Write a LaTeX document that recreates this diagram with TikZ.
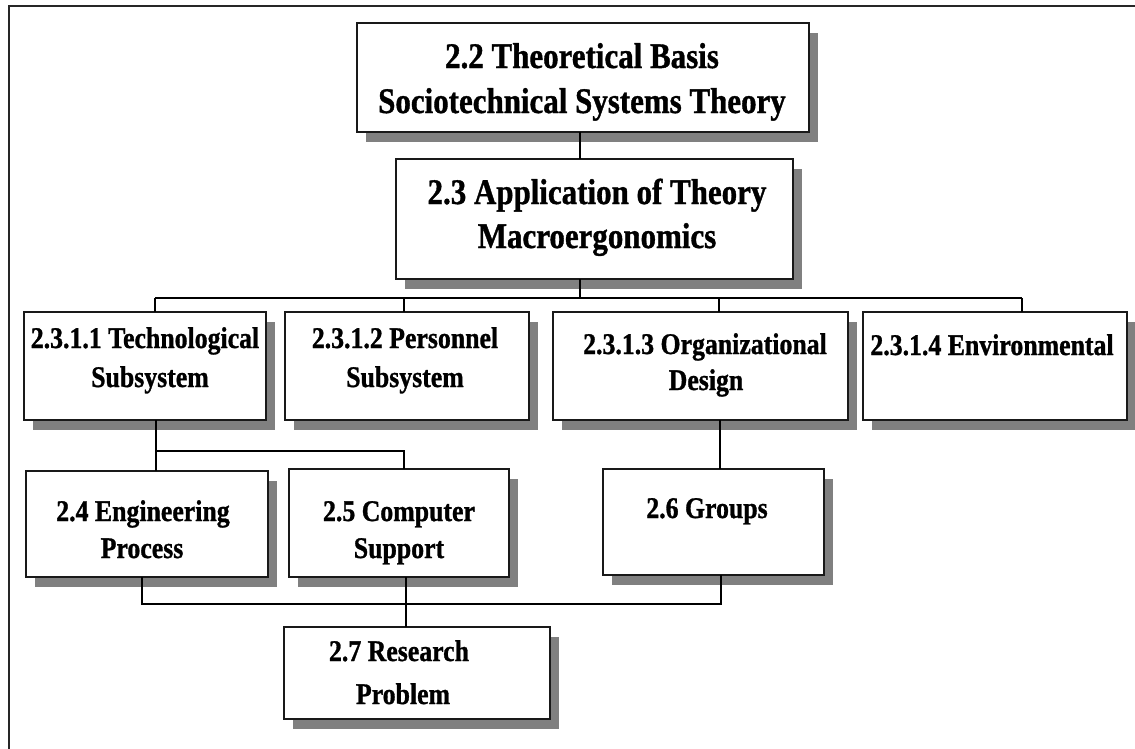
\documentclass[tikz,border=0pt]{standalone}
\usepackage{fontspec}
\usetikzlibrary{shadows}
\newfontfamily\boxfont[FakeStretch=0.86, FakeBold=1]{Liberation Serif}

\begin{document}
\begin{tikzpicture}[x=1pt,y=-1pt,
  box/.style={draw=black!90, line width=1.4pt, fill=white, inner sep=0pt, outer sep=0pt,
    anchor=north west,
    drop shadow={shadow xshift=8.5pt, shadow yshift=-10pt, fill=gray, opacity=1}},
  big/.style={anchor=base, inner sep=0pt, font=\boxfont\bfseries\fontsize{36}{42}\selectfont},
  small/.style={anchor=base, inner sep=0pt, font=\boxfont\bfseries\fontsize{30}{35}\selectfont},
  link/.style={draw=black, line width=1.1pt},
  frameline/.style={draw=black!85, line width=1.4pt}]

\useasboundingbox (0,0) rectangle (1135,748);
\fill[white] (0,0) rectangle (1135,748);

% outer frame (runs past the right and bottom edges)
\draw[frameline] (9,760) -- (9,6) -- (1150,6);

% boxes
\node[box, minimum width=452pt, minimum height=109pt] (b22) at (357,23) {};
\node[box, minimum width=397pt, minimum height=120pt] (b23) at (396,159) {};
\node[box, minimum width=242pt, minimum height=108pt] (tech) at (24,312) {};
\node[box, minimum width=244pt, minimum height=108pt] (pers) at (285,312) {};
\node[box, minimum width=295pt, minimum height=108pt] (org) at (553,312) {};
\node[box, minimum width=264pt, minimum height=108pt] (env) at (863,312) {};
\node[box, minimum width=242pt, minimum height=106pt] (eng) at (26,471) {};
\node[box, minimum width=220pt, minimum height=108pt] (comp) at (289,469) {};
\node[box, minimum width=221pt, minimum height=106pt] (grp) at (603,469) {};
\node[box, minimum width=266pt, minimum height=92pt] (res) at (284,627) {};

% box texts
\node[big] (t22a) at (582,68) {2.2 Theoretical Basis};
\node[big] (t22b) at (582,113) {Sociotechnical Systems Theory};
\node[big] (t23a) at (597,204) {2.3 Application of Theory};
\node[big] (t23b) at (597,248) {Macroergonomics};
\node[small] (ttecha) at (145,348) {2.3.1.1 Technological};
\node[small] (ttechb) at (150,387) {Subsystem};
\node[small] (tpersa) at (405,348) {2.3.1.2 Personnel};
\node[small] (tpersb) at (405,387) {Subsystem};
\node[small] (torga) at (705,354) {2.3.1.3 Organizational};
\node[small] (torgb) at (706,390) {Design};
\node[small] (tenv) at (992,355) {2.3.1.4 Environmental};
\node[small] (tenga) at (143,521) {2.4 Engineering};
\node[small] (tengb) at (142,558) {Process};
\node[small] (tcompa) at (399,521) {2.5 Computer};
\node[small] (tcompb) at (399,558) {Support};
\node[small] (tgrp) at (707,518) {2.6 Groups};
\node[small] (tresa) at (399,661) {2.7 Research};
\node[small] (tresb) at (403,704) {Problem};

% junction points
\coordinate (top) at (580,298);
\coordinate (tk1) at (155,298);
\coordinate (tk2) at (404,298);
\coordinate (tk3) at (719,298);
\coordinate (tk4) at (1022,298);
\coordinate (mj1) at (156,451);
\coordinate (mj2) at (404,451);
\coordinate (oj) at (720,440);
\coordinate (bb1) at (142,604);
\coordinate (bb2) at (406,604);
\coordinate (bb3) at (721,604);

% connectors
\draw[link] (b22.south -| top) -- (b23.north -| top);
\draw[link] (b23.south -| top) -- (top);
\draw[link] (tk1) -- (tk4);
\draw[link] (tk1) -- (tech.north -| tk1);
\draw[link] (tk2) -- (pers.north -| tk2);
\draw[link] (tk3) -- (org.north -| tk3);
\draw[link] (tk4) -- (env.north -| tk4);
\draw[link] (tech.south -| mj1) -- (eng.north -| mj1);
\draw[link] (mj1) -- (mj2) -- (comp.north -| mj2);
\draw[link] (org.south -| oj) -- (grp.north -| oj);
\draw[link] (eng.south -| bb1) -- (bb1) -- (bb3) -- (grp.south -| bb3);
\draw[link] (comp.south -| bb2) -- (res.north -| bb2);
\end{tikzpicture}
\end{document}
